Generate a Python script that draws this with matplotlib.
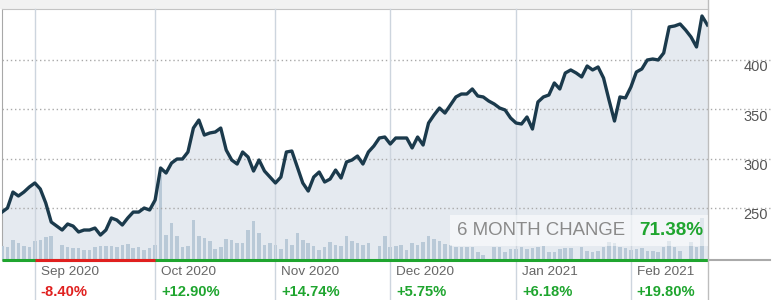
import matplotlib.pyplot as plt
from matplotlib.patches import Rectangle
from matplotlib.lines import Line2D

plt.rcParams['font.family'] = ['Liberation Sans', 'DejaVu Sans']

# daily closes, late Aug 2020 -> mid Feb 2021
prices = [245.8, 249.9, 266.1, 262.1, 266.1, 271.2, 275.3, 269.2, 255.0, 235.7,
          231.6, 227.6, 233.7, 231.6, 225.6, 227.6, 227.6, 229.6, 222.5, 227.6,
          239.8, 237.7, 232.7, 239.8, 245.8, 245.8, 249.9, 247.9, 258.0, 290.5,
          285.4, 295.5, 299.6, 299.6, 306.7, 331.0, 339.1, 323.9, 326.0, 327.0,
          331.0, 308.7, 298.6, 294.5, 306.7, 301.6, 287.4, 298.6, 287.4, 281.3,
          275.3, 281.3, 306.7, 307.7, 291.5, 275.3, 267.1, 281.3, 286.4, 276.3,
          279.3, 288.4, 280.3, 296.6, 298.6, 302.6, 294.5, 306.7, 312.8, 320.9,
          321.9, 314.8, 320.9, 320.9, 320.9, 310.8, 321.9, 313.8, 336.1, 344.2,
          351.3, 346.2, 354.4, 362.5, 365.5, 365.5, 370.6, 363.5, 362.5, 358.4,
          355.4, 351.3, 349.3, 341.2, 336.1, 335.1, 342.2, 330.0, 357.4, 362.5,
          364.5, 376.7, 370.6, 386.8, 389.9, 386.8, 382.8, 393.9, 389.9, 392.9,
          381.7, 359.4, 338.1, 362.5, 361.5, 372.6, 387.8, 390.9, 400.0, 401.0,
          400.0, 407.1, 433.5, 434.5, 436.5, 430.4, 423.3, 413.2, 444.6, 435.5]

# volume, arbitrary units
volume = [14, 13, 20, 17, 14, 13, 19, 20, 23, 24, 0, 15, 13, 12, 12, 10, 10, 13, 14, 14,
          14, 13, 15, 16, 12, 13, 10, 12, 15,
          85, 25, 37, 24, 13, 14, 40, 24, 22, 19, 11, 13, 21, 20, 17, 17, 30, 39, 27, 15,
          17, 15,
          11, 21, 15, 27, 20, 17, 14, 10, 13, 18, 15, 14, 24, 19, 17, 15, 17, 0, 14, 24,
          13, 14,
          15, 10, 17, 15, 18, 24, 21, 19, 16, 15, 13, 13, 13, 13, 8, 5, 0, 13, 13, 8,
          11, 11, 13,
          11, 12, 13, 14, 8, 8, 11, 12, 12, 0, 13, 9, 8, 9, 13, 18, 17, 13, 12, 10, 11,
          12, 9, 9, 8, 13, 19, 13, 9, 0, 18, 13, 42, 0]

month_start = [6, 28, 50, 71, 94, 115]
month_labels = ['Sep 2020', 'Oct 2020', 'Nov 2020', 'Dec 2020', 'Jan 2021', 'Feb 2021']
month_changes = ['-8.40%', '+12.90%', '+14.74%', '+5.75%', '+6.18%', '+19.80%']
price_ticks = [250, 300, 350, 400]
six_month_change = '71.38%'

GREEN = '#1fa52f'
RED = '#e0201f'
W, H = 776, 300

fig = plt.figure(figsize=(W / 100, H / 100), dpi=100)
fig.patch.set_facecolor('white')

# top grey band
fig.add_artist(Rectangle((0, 291 / H), 708 / W, 9 / H, transform=fig.transFigure,
                         facecolor='#f2f2f2', edgecolor='none', zorder=0))

ax = fig.add_axes([2 / W, 40 / H, 706 / W, 251 / H])
x = list(range(len(prices)))
ymin, ymax = 197.2, 451.7
ax.set_xlim(0, 129.1)
ax.set_ylim(ymin, ymax)
ax.fill_between(x, prices, ymin, color='#e5eaf0', lw=0)
ax.set_xticks([])
ax.set_yticks([])
for s in ['bottom', 'right']:
    ax.spines[s].set_visible(False)
ax.spines['top'].set_color('#c4c4c4')
ax.spines['left'].set_color('#a8a8a8')

# volume bars
ax2 = ax.twinx()
ax2.set_ylim(0, 251)
ax2.bar(x, volume, width=0.65, color='#b9c9d7', lw=0)
ax2.axis('off')

# price line on top
ax3 = ax.twinx()
ax3.set_xlim(ax.get_xlim())
ax3.set_ylim(ymin, ymax)
ax3.axis('off')
for v in price_ticks:
    ax3.axhline(v, xmin=0, xmax=768 / 706, color='#a9a9a9', lw=1,
                linestyle=(0, (1, 2)), clip_on=False, zorder=1)
    ax3.annotate(str(v), xy=(1, v), xycoords=('axes fraction', 'data'),
                 xytext=(43.2, -5.4), textcoords='offset points',
                 ha='right', va='center', fontsize=10.5, color='#555555')
for m in month_start:
    ax3.axvline(m, ymin=-40 / 251, ymax=1, color='#cdd5de', lw=1, clip_on=False, zorder=1)
ax3.plot(x, prices, color='#1b3a4c', lw=2.4, solid_joinstyle='round', zorder=3)

# baseline: green, red for the losing month
ax3.plot([0, x[-1] + 0.1], [ymin, ymin], color=GREEN, lw=2.2, clip_on=False, zorder=4,
         solid_capstyle='butt')
ax3.plot([month_start[0], month_start[1]], [ymin, ymin], color=RED, lw=2.2, clip_on=False,
         zorder=5, solid_capstyle='butt')
ax3.axhline(ymin, xmin=1, xmax=768 / 706, color='#aaaaaa', lw=1.5, clip_on=False)

# right border running to the bottom
fig.add_artist(Line2D([708 / W, 708 / W], [0, 1], transform=fig.transFigure,
                      color='#bdbdbd', lw=1, zorder=6))

for m, lab, chg in zip(month_start, month_labels, month_changes):
    ax3.annotate(lab, xy=(m, 0), xycoords=('data', 'axes fraction'),
                 xytext=(4.3, -8.8), textcoords='offset points',
                 ha='left', va='center', fontsize=9.7, color='#666666')
    ax3.annotate(chg, xy=(m, 0), xycoords=('data', 'axes fraction'),
                 xytext=(4.3, -23.2), textcoords='offset points',
                 ha='left', va='center', fontsize=10.6, fontweight='bold',
                 color=RED if chg.startswith('-') else GREEN)

# 6 month change box
fig.add_artist(Rectangle((450 / W, (H - 246) / H), 258 / W, 31 / H, transform=fig.transFigure,
                         facecolor='white', alpha=0.55, edgecolor='none', zorder=7))
fig.text(457 / W, (H - 230.5) / H, '6 MONTH CHANGE', ha='left', va='center',
         fontsize=13.4, color='#8a8a8a', zorder=8)
fig.text(703 / W, (H - 230.5) / H, six_month_change, ha='right', va='center',
         fontsize=13.6, fontweight='bold', color=GREEN, zorder=8)

fig.savefig('out.png', dpi=100)
